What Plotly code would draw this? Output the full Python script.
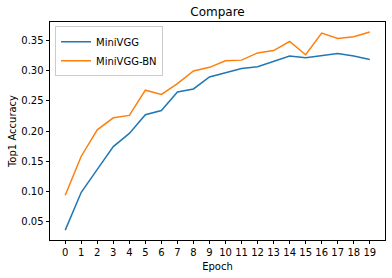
import plotly.graph_objects as go

epochs = list(range(20))
minivgg = [0.035, 0.098, 0.136, 0.174, 0.196, 0.227, 0.234, 0.265, 0.270, 0.290,
           0.297, 0.304, 0.307, 0.316, 0.325, 0.322, 0.326, 0.329, 0.325, 0.319]
minivgg_bn = [0.093, 0.158, 0.202, 0.222, 0.226, 0.268, 0.261, 0.279, 0.300, 0.306,
              0.317, 0.318, 0.330, 0.334, 0.349, 0.327, 0.363, 0.354, 0.357, 0.365]
x_ticks = list(range(20))
y_ticks = [0.05, 0.10, 0.15, 0.20, 0.25, 0.30, 0.35]

font = "DejaVu Sans"
fig = go.Figure()
fig.add_trace(go.Scatter(x=epochs, y=minivgg, mode="lines", name="MiniVGG",
                         line=dict(color="#1f77b4", width=1.5)))
fig.add_trace(go.Scatter(x=epochs, y=minivgg_bn, mode="lines", name="MiniVGG-BN",
                         line=dict(color="#ff7f0e", width=1.5)))

axis_common = dict(showline=True, linecolor="black", linewidth=0.8, mirror=True,
                   ticks="outside", ticklen=3.5, tickwidth=0.8, tickcolor="black",
                   showgrid=False, zeroline=False,
                   tickfont=dict(family=font, size=10, color="black"))

fig.update_layout(
    width=392, height=278,
    margin=dict(l=50, r=7, t=22, b=38),
    paper_bgcolor="white", plot_bgcolor="white",
    font=dict(family=font, size=10, color="black"),
    title=dict(text="Compare", x=(50 + 385) / 2 / 392, xanchor="center",
               y=1 - 12 / 278, yanchor="middle",
               font=dict(family=font, size=12, color="black")),
    legend=dict(x=0.015, y=0.98, xanchor="left", yanchor="top",
                bgcolor="rgba(255,255,255,0.8)", bordercolor="#cccccc", borderwidth=1,
                font=dict(family=font, size=10, color="black"),
                tracegroupgap=0, itemwidth=30),
    showlegend=True,
)
fig.update_xaxes(range=[-0.95, 19.95], tickmode="array", tickvals=x_ticks,
                 ticktext=[str(t) for t in x_ticks],
                 title=dict(text="Epoch", font=dict(family=font, size=10, color="black"), standoff=5),
                 **axis_common)
fig.update_yaxes(range=[0.0185, 0.3815], tickmode="array", tickvals=y_ticks,
                 ticktext=[f"{t:.2f}" for t in y_ticks],
                 title=dict(text="Top1 Accuracy", font=dict(family=font, size=10, color="black"), standoff=2),
                 **axis_common)

fig.write_html("out.html")
